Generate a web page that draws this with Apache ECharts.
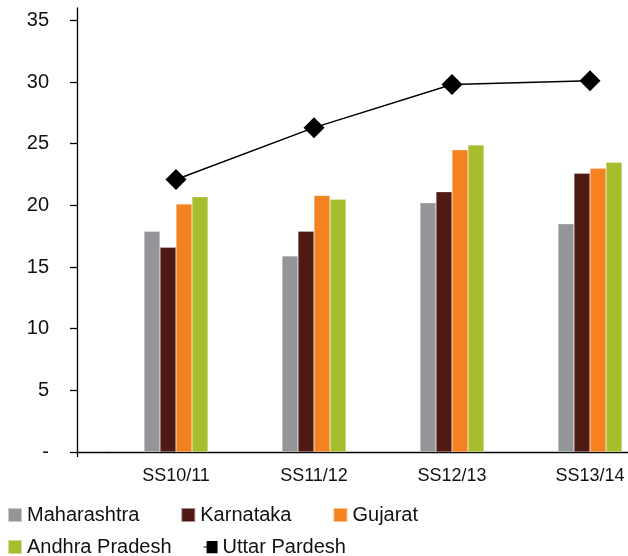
<!DOCTYPE html>
<html>
<head>
<meta charset="utf-8">
<script src="https://cdn.jsdelivr.net/npm/echarts@6/dist/echarts.min.js"></script>
<style>html,body{margin:0;padding:0;background:#fff}#c{width:628px;height:556px}</style>
</head>
<body>
<div id="c"></div>
<script>
var categories = ['SS10/11', 'SS11/12', 'SS12/13', 'SS13/14'];
var maharashtra = [17.9, 15.9, 20.2, 18.5];
var karnataka = [16.6, 17.9, 21.1, 22.6];
var gujarat = [20.1, 20.8, 24.5, 23.0];
var andhra = [20.7, 20.5, 24.9, 23.5];
var uttar = [22.1, 26.3, 29.8, 30.1];
var yTicks = [0, 5, 10, 15, 20, 25, 30, 35];

var FONT = '"Liberation Sans", Arial, sans-serif';
var chart = echarts.init(document.getElementById('c'), null, {renderer: 'canvas'});

function bar(name, data, color) {
  return {
    name: name, type: 'bar', data: data, barWidth: 16, barGap: '0%',
    itemStyle: {color: color, borderColor: 'rgba(255,255,255,0.5)', borderWidth: 0.5},
    emphasis: {disabled: true}
  };
}

var option = {
  animation: false,
  backgroundColor: '#ffffff',
  textStyle: {fontFamily: FONT},
  grid: [
    {left: 107, right: -31, top: 8, bottom: 104, containLabel: false, outerBoundsMode: 'none'},
    {left: 77, width: 30, top: 8, bottom: 104, containLabel: false, outerBoundsMode: 'none'}
  ],
  xAxis: [
    {
      type: 'category', data: categories, gridIndex: 0, boundaryGap: true,
      axisLine: {lineStyle: {color: '#000', width: 1.3}},
      axisTick: {length: 6, lineStyle: {color: '#000', width: 1.3}, interval: function (i) { return i > 0; }},
      axisLabel: {fontSize: 18, color: '#111', margin: 15, fontFamily: FONT}
    },
    {
      type: 'category', data: ['a', 'b'], gridIndex: 1, boundaryGap: false,
      axisLine: {lineStyle: {color: '#000', width: 1.3}},
      axisTick: {length: 5, lineStyle: {color: '#000', width: 1.3}, interval: function (i) { return i === 0; }},
      axisLabel: {show: false}
    }
  ],
  yAxis: [
    {
      type: 'value', gridIndex: 0, min: 0, max: 36, offset: 30,
      splitLine: {show: false},
      axisLine: {show: true, lineStyle: {color: '#000', width: 1.3}},
      axisTick: {show: true, length: 7, lineStyle: {color: '#000', width: 1.3}, customValues: yTicks},
      axisLabel: {
        fontSize: 20, color: '#111', margin: 28, fontFamily: FONT, customValues: yTicks,
        formatter: function (v) { return v === 0 ? '-' : String(v); }
      }
    },
    {type: 'value', gridIndex: 1, min: 0, max: 36, show: false}
  ],
  legend: [
    {
      left: 7, top: 505, padding: 0, itemGap: 41, itemWidth: 14, itemHeight: 14,
      textStyle: {fontSize: 20, color: '#111', fontFamily: FONT},
      data: [
        {name: 'Maharashtra', icon: 'rect'},
        {name: 'Karnataka', icon: 'rect'},
        {name: 'Gujarat', icon: 'rect'}
      ],
      selectedMode: false
    },
    {
      left: 7, top: 537, padding: 0, itemGap: 32, itemWidth: 14, itemHeight: 14,
      textStyle: {fontSize: 20, color: '#111', fontFamily: FONT},
      data: [
        {name: 'Andhra Pradesh', icon: 'rect'},
        {name: 'Uttar Pardesh', icon: 'path://M0,6.3 L3.5,6.3 L3.5,0 L16,0 L16,6.3 L16,7.7 L16,14 L3.5,14 L3.5,7.7 L0,7.7 Z', itemStyle: {color: '#000'}}
      ],
      selectedMode: false
    }
  ],
  series: [
    bar('Maharashtra', maharashtra, '#939598'),
    bar('Karnataka', karnataka, '#4f1a13'),
    bar('Gujarat', gujarat, '#f58220'),
    bar('Andhra Pradesh', andhra, '#a8bd2e'),
    {
      name: 'Uttar Pardesh', type: 'line', data: uttar, z: 5,
      symbol: 'diamond', symbolSize: 21,
      lineStyle: {color: '#000', width: 1.5},
      itemStyle: {color: '#000'},
      emphasis: {disabled: true}
    }
  ]
};
chart.setOption(option);
</script>
</body>
</html>
